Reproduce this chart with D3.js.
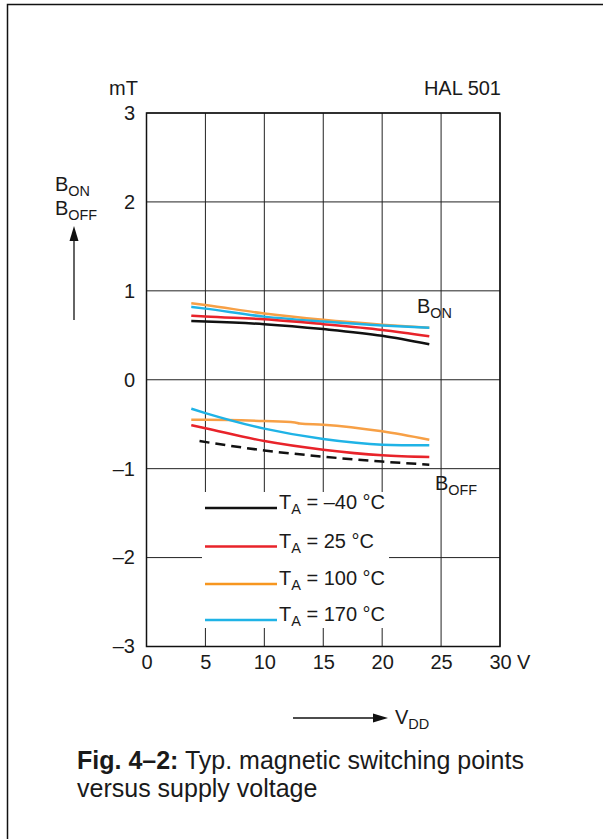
<!DOCTYPE html>
<html>
<head>
<meta charset="utf-8">
<script src="https://cdn.jsdelivr.net/npm/d3@7/dist/d3.min.js"></script>
<style>
  html, body { margin: 0; padding: 0; background: #fff; }
  svg { display: block; }
  text { font-family: "Liberation Sans", Arial, Helvetica, sans-serif; fill: #1a1a1a; }
</style>
</head>
<body>
<svg id="chart" width="603" height="839"></svg>
<script>
// ---------- data ----------
const xTicks = [0, 5, 10, 15, 20, 25, 30];
const yTicks = [3, 2, 1, 0, -1, -2, -3];
const yTickLabels = ["3", "2", "1", "0", "\u20131", "\u20132", "\u20133"];

const temps = ["\u201340", "25", "100", "170"];
const colors = ["#111111", "#e8232a", "#f7a046", "#1fb3e6"];

// B_ON curves (mT) vs VDD (V)
const onVolts = [3.8, 5, 10, 15, 20, 24];
const bonM40 = [0.66, 0.655, 0.625, 0.57, 0.495, 0.40];
const bon25  = [0.72, 0.71, 0.68, 0.625, 0.56, 0.49];
const bon100 = [0.86, 0.84, 0.745, 0.674, 0.62, 0.585];
const bon170 = [0.82, 0.80, 0.71, 0.655, 0.61, 0.585];

// B_OFF curves
const offVoltsM40 = [4.5, 10, 15, 20, 24];
const boffM40 = [-0.69, -0.795, -0.865, -0.92, -0.955];
const offVolts = [3.8, 5, 10, 15, 20, 24];
const boff25  = [-0.51, -0.545, -0.69, -0.787, -0.85, -0.87];
const offVolts100 = [3.8, 5, 10, 12.6, 13, 15, 20, 24];
const boff100 = [-0.45, -0.45, -0.465, -0.48, -0.492, -0.505, -0.58, -0.675];
const boff170 = [-0.326, -0.375, -0.55, -0.667, -0.73, -0.738];

// ---------- drawing ----------
const svg = d3.select("#chart");
const FONT = "Liberation Sans, Arial, sans-serif";
const x = d3.scaleLinear().domain([0, 30]).range([146.5, 500]);
const y = d3.scaleLinear().domain([-3, 3]).range([646.5, 113]);

// outer frame (top + left only)
svg.append("path").attr("d", "M7.5,839 L7.5,4.5 L603,4.5")
  .attr("fill", "none").attr("stroke", "#111").attr("stroke-width", 1.5);

// grid
const grid = svg.append("g");
grid.selectAll("line.v").data(xTicks).join("line")
  .attr("x1", d => x(d)).attr("x2", d => x(d))
  .attr("y1", y(3)).attr("y2", y(-3))
  .attr("stroke", "#222").attr("stroke-width", 1);
grid.selectAll("line.h").data(yTicks).join("line")
  .attr("x1", x(0)).attr("x2", x(30))
  .attr("y1", d => y(d)).attr("y2", d => y(d))
  .attr("stroke", "#222").attr("stroke-width", 1);
svg.append("rect").attr("x", x(0)).attr("y", y(3))
  .attr("width", x(30) - x(0)).attr("height", y(-3) - y(3))
  .attr("fill", "none").attr("stroke", "#111").attr("stroke-width", 1.5);

// tick labels via axes (no lines)
const yAxis = d3.axisLeft(y).tickValues(yTicks).tickSize(0).tickPadding(0)
  .tickFormat((d, i) => yTickLabels[i]);
const yg = svg.append("g").attr("transform", `translate(135,0)`).call(yAxis);
yg.select(".domain").remove();
yg.selectAll("text").attr("font-size", 20).attr("fill", "#1a1a1a").attr("font-family", FONT);

const xAxis = d3.axisBottom(x).tickValues(xTicks).tickSize(0).tickPadding(0);
const xg = svg.append("g").attr("transform", `translate(0,655)`).call(xAxis);
xg.select(".domain").remove();
xg.selectAll("text").attr("font-size", 20).attr("fill", "#1a1a1a").attr("font-family", FONT);

svg.append("text").attr("x", 517).attr("y", 669.2).attr("font-size", 20).text("V");
svg.append("text").attr("x", 138).attr("y", 95).attr("font-size", 20)
  .attr("text-anchor", "end").text("mT");
svg.append("text").attr("x", 501).attr("y", 95).attr("font-size", 20)
  .attr("text-anchor", "end").text("HAL 501");

// curves
const line = d3.line().x(d => x(d[0])).y(d => y(d[1])).curve(d3.curveMonotoneX);
const zip = (a, b) => a.map((v, i) => [v, b[i]]);
const onSeries = [bonM40, bon25, bon100, bon170];
const offSeries = [
  zip(offVoltsM40, boffM40), zip(offVolts, boff25),
  zip(offVolts100, boff100), zip(offVolts, boff170)
];
const curves = svg.append("g").attr("fill", "none").attr("stroke-width", 2.5);
// draw in order: orange, cyan, red, black on top
[2, 3, 1, 0].forEach(i => {
  curves.append("path").attr("d", line(zip(onVolts, onSeries[i])))
    .attr("stroke", colors[i]);
  curves.append("path").attr("d", line(offSeries[i]))
    .attr("stroke", colors[i])
    .attr("stroke-dasharray", i === 0 ? "10,6" : null);
});

// B labels
function bLabel(px, py, sub, size) {
  const t = svg.append("text").attr("x", px).attr("y", py).attr("font-size", size);
  t.append("tspan").text("B");
  t.append("tspan").attr("dy", 5).attr("font-size", size * 0.72).text(sub);
}
bLabel(417, 313, "ON", 20);
bLabel(435, 490, "OFF", 20);

// y-axis quantity label
bLabel(55, 191, "ON", 20);
bLabel(55, 215, "OFF", 20);
svg.append("line").attr("x1", 74).attr("x2", 74).attr("y1", 320).attr("y2", 238)
  .attr("stroke", "#111").attr("stroke-width", 1.3);
svg.append("path").attr("d", "M74,226 L69.5,241 L78.5,241 Z").attr("fill", "#111");

// x quantity label
svg.append("line").attr("x1", 293).attr("x2", 376).attr("y1", 718).attr("y2", 718)
  .attr("stroke", "#111").attr("stroke-width", 1.3);
svg.append("path").attr("d", "M388,718 L373,713.5 L373,722.5 Z").attr("fill", "#111");
{
  const t = svg.append("text").attr("x", 395).attr("y", 724).attr("font-size", 20);
  t.append("tspan").text("V");
  t.append("tspan").attr("dy", 5).attr("font-size", 14.5).text("DD");
}

// legend with white background
const lg = svg.append("g");
lg.append("rect").attr("x", 202).attr("y", 492).attr("width", 187).attr("height", 136)
  .attr("fill", "#fff");
const legY = [508, 546.5, 584, 620];
temps.forEach((t, i) => {
  lg.append("line").attr("x1", 205).attr("x2", 277)
    .attr("y1", legY[i]).attr("y2", legY[i])
    .attr("stroke", colors[i] === "#f7a046" ? "#f7961f" : colors[i]).attr("stroke-width", 2.4);
  const tx = lg.append("text").attr("x", 279).attr("y", legY[i] + 1).attr("font-size", 20);
  tx.append("tspan").text("T");
  tx.append("tspan").attr("dy", 5).attr("font-size", 14.5).text("A");
  tx.append("tspan").attr("dy", -5).text(` = ${t} \u00B0C`);
});

// caption
{
  const c1 = svg.append("text").attr("x", 77).attr("y", 769).attr("font-size", 25);
  c1.append("tspan").attr("font-weight", "bold").text("Fig. 4\u20132:");
  c1.append("tspan").text(" Typ. magnetic switching points");
  svg.append("text").attr("x", 77).attr("y", 797).attr("font-size", 25)
    .text("versus supply voltage");
}
</script>
</body>
</html>
